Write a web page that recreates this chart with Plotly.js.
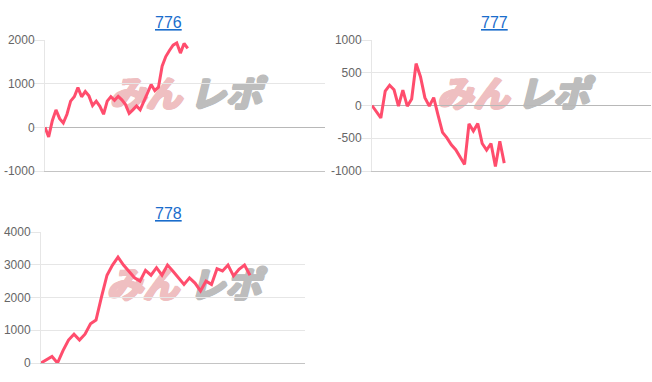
<!DOCTYPE html>
<html><head><meta charset="utf-8">
<script src="https://cdn.plot.ly/plotly-3.0.1.min.js"></script>
<style>html,body{margin:0;padding:0;background:#fff;overflow:hidden}</style>
</head><body><div id="chart" style="width:652px;height:382px"></div>
<script>
// ---- data ----
const titles = ['776', '777', '778'];
const values776 = [0, -220, 150, 400, 200, 100, 300, 600, 700, 910, 700, 820, 720, 500, 600, 480, 300, 600, 700, 620, 710, 630, 520, 320, 400, 490, 400, 600, 780, 980, 840, 920, 1400, 1620, 1760, 1880, 1930, 1700, 1920, 1810];
const values777 = [0, -100, -190, 220, 310, 240, -10, 235, -10, 100, 640, 440, 120, -10, 120, -150, -410, -495, -600, -675, -780, -900, -280, -390, -275, -580, -680, -580, -930, -545, -880];
const values778 = [0, 100, 200, 0, 380, 700, 880, 700, 880, 1200, 1310, 2020, 2680, 2990, 3230, 2990, 2800, 2600, 2500, 2830, 2680, 2910, 2680, 2990, 2800, 2600, 2400, 2600, 2440, 2200, 2500, 2400, 2880, 2810, 2990, 2660, 2860, 2990, 2680];
const yTicks776 = [-1000, 0, 1000, 2000];
const yTicks777 = [-1000, -500, 0, 500, 1000];
const yTicks778 = [0, 1000, 2000, 3000, 4000];
const watermarkA = 'みん';
const watermarkB = 'レポ';

// ---- layout helpers ----
const W = 652, H = 382;
const px = v => v / W;
const py = v => 1 - v / H;
const lineColor = '#ff4d6d';
const gridColor = '#e6e6e6';
const tickFont = {family: 'Liberation Sans, Arial, sans-serif', size: 12, color: '#666'};

function idx(arr) { return arr.map((_, i) => i); }

const series = [values776, values777, values778];
const traces = series.map((vals, k) => ({
  type: 'scatter', mode: 'lines',
  x: idx(vals), y: vals,
  xaxis: k === 0 ? 'x' : 'x' + (k + 1),
  yaxis: k === 0 ? 'y' : 'y' + (k + 1),
  line: {color: lineColor, width: 3, shape: 'linear'},
  hoverinfo: 'skip'
}));

function xax(domain, range, anchor) {
  return {domain, range, anchor, showgrid: false, zeroline: false, showticklabels: false,
    ticks: '', showline: true, linecolor: '#c4c4c4', linewidth: 1, fixedrange: true};
}
function yax(domain, range, ticks, anchor) {
  return {domain, range, anchor, tickvals: ticks, ticktext: ticks.map(String),
    showgrid: true, gridcolor: gridColor, gridwidth: 1,
    zeroline: true, zerolinecolor: '#b8b8b8', zerolinewidth: 1,
    showline: true, linecolor: gridColor, linewidth: 1,
    ticks: 'outside', ticklen: 10, tickcolor: gridColor, tickwidth: 1,
    tickfont: tickFont, ticklabelstandoff: -3, fixedrange: true};
}

function titleAnn(text, xc, yc) {
  return {text: '<u>' + text + '</u>', xref: 'paper', yref: 'paper', x: px(xc), y: py(yc),
    xanchor: 'center', yanchor: 'middle', showarrow: false,
    font: {family: 'Liberation Sans, Arial, sans-serif', size: 16, color: '#1a6dcc'}};
}

function wm(text, x0, x1, y0, y1, color) {
  const s = [];
  for (const [dx, dy] of [[1,0],[-1,0],[0,1],[0,-1],[2,0],[1,1],[-1,1],[1,-1],[-1,-1]]) s.push(dx + 'px ' + dy + 'px 0 ' + color);
  return {type: 'rect', xref: 'paper', yref: 'paper', layer: 'below',
    x0: px(x0), x1: px(x1), y0: py(y1), y1: py(y0),
    line: {width: 0}, fillcolor: 'rgba(0,0,0,0)',
    label: {text: '<b><i>' + text + '</i></b>', textposition: 'middle center',
      font: {family: 'Noto Sans CJK JP, sans-serif', size: 36, color, shadow: s.join(', ')}}};
}

const pink = '#efbfc1', grey = '#bdbdbd';
const layout = {
  width: W, height: H, margin: {l: 0, r: 0, t: 0, b: 0},
  paper_bgcolor: '#fff', plot_bgcolor: 'rgba(0,0,0,0)', showlegend: false, hovermode: false,
  xaxis: xax([px(45), px(325)], [0, 76.5], 'y'),
  yaxis: yax([py(171), py(40)], [-1000, 2000], yTicks776, 'x'),
  xaxis2: xax([px(372), px(651)], [0, 63.3], 'y2'),
  yaxis2: yax([py(171), py(40)], [-1000, 1000], yTicks777, 'x2'),
  xaxis3: xax([px(41), px(305)], [0, 48], 'y3'),
  yaxis3: yax([py(363), py(232)], [0, 4000], yTicks778, 'x3'),
  annotations: [titleAnn(titles[0], 168.5, 22), titleAnn(titles[1], 495, 22), titleAnn(titles[2], 168.5, 213)],
  shapes: [
    wm(watermarkA, 108, 183, 82, 112, pink), wm(watermarkB, 186, 265, 82, 112, grey),
    wm(watermarkA, 436, 510, 82, 112, pink), wm(watermarkB, 513, 593, 82, 112, grey),
    wm(watermarkA, 105, 180, 273, 303, pink), wm(watermarkB, 185, 265, 273, 303, grey)
  ]
};

Plotly.newPlot('chart', traces, layout, {staticPlot: true, displayModeBar: false});
</script></body></html>
